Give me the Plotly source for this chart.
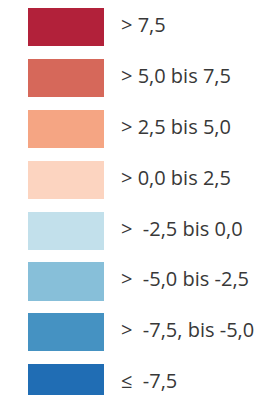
import plotly.graph_objects as go

labels = ["> 7,5", "> 5,0 bis 7,5", "> 2,5 bis 5,0", "> 0,0 bis 2,5",
          ">\u00a0 -2,5 bis 0,0", ">\u00a0 -5,0 bis -2,5", ">\u00a0 -7,5, bis -5,0", "≤\u00a0 -7,5"]
colors = ["#B2213A", "#D6685A", "#F5A583", "#FCD4C0",
          "#C2E0EB", "#87BFD9", "#4592C2", "#206DB4"]
swatch = [1] * len(labels)

fig = go.Figure()
fig.add_trace(go.Bar(
    x=[76 * s for s in swatch], y=labels, base=28, orientation="h",
    marker=dict(color=colors, line=dict(width=0)), width=0.747,
    hoverinfo="skip", showlegend=False))
fig.add_trace(go.Scatter(
    x=[121 * s for s in swatch], y=labels, mode="text", text=labels,
    textposition="middle right", cliponaxis=False,
    textfont=dict(family="Open Sans", size=20, color="#383838"),
    hoverinfo="skip", showlegend=False))

fig.update_layout(
    width=267, height=395, margin=dict(l=0, r=0, t=0, b=0),
    paper_bgcolor="white", plot_bgcolor="white",
    xaxis=dict(range=[0, 267], visible=False, fixedrange=True),
    yaxis=dict(type="category", categoryorder="array", categoryarray=labels,
               range=[7.23, -0.53], visible=False, fixedrange=True),
    bargap=0,
)
fig.write_html("out.html", config={"displayModeBar": False},
               post_script="document.body.style.margin='0';document.body.style.overflow='hidden';")
